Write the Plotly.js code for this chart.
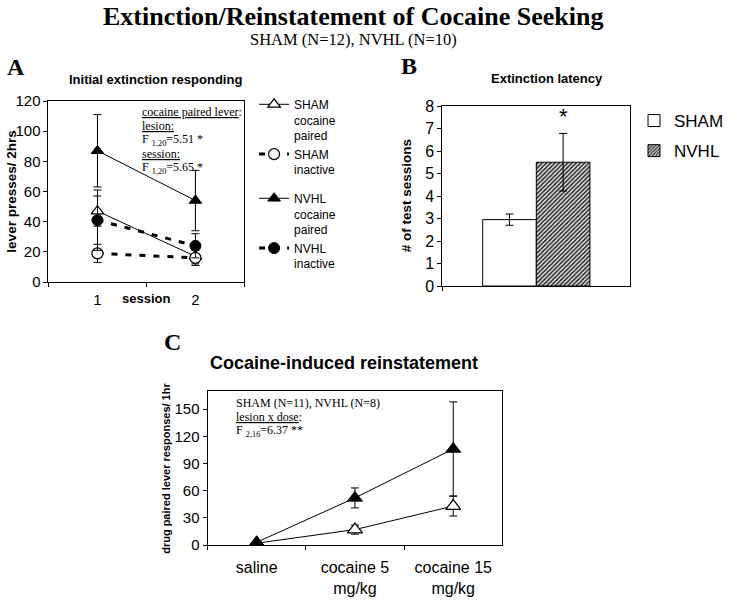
<!DOCTYPE html>
<html>
<head>
<meta charset="utf-8">
<script src="https://cdn.plot.ly/plotly-3.0.1.min.js"></script>
<style>html,body{margin:0;padding:0;background:#fff;}#chart{width:729px;height:601px;}</style>
</head>
<body>
<div id="chart"></div>
<script>
// ---------- Panel A data ----------
var sessions = ["1", "2"];
var shamCocaine = [47, 17];
var shamCocaineErr = [10, 5];
var shamInactive = [19, 16];
var shamInactiveErr = [6, 5];
var nvhlCocaine = [87, 54];
var nvhlCocaineErr = [24, 20];
var nvhlInactive = [41, 24];
var nvhlInactiveErr = [20, 8];

// ---------- Panel B data ----------
var latencyCategory = ["latency"];
var shamLatency = [2.95];
var shamLatencyErr = [0.25];
var nvhlLatency = [5.5];
var nvhlLatencyErr = [1.28];

// ---------- Panel C data ----------
var doses = ["saline", "cocaine 5<br>mg/kg", "cocaine 15<br>mg/kg"];
var shamReinst = [2, 17, 43];
var shamReinstErr = [1, 5, 11];
var nvhlReinst = [3, 52, 106];
var nvhlReinstErr = [1, 11, 52];

var W = 729, H = 601;
function px(x) { return x / W; }
function py(y) { return 1 - y / H; }

var ARIAL = "Liberation Sans, Arial, sans-serif";
var TIMES = "Liberation Serif, Times New Roman, serif";

function errY(arr) {
  return {type: "data", array: arr, visible: true, color: "#000", thickness: 1, width: 4};
}

var traces = [
  {x: sessions, y: shamCocaine, error_y: errY(shamCocaineErr), xaxis: "x", yaxis: "y",
   name: "SHAM<br>cocaine<br>paired", legendgroup: "sham", legend: "legend",
   mode: "lines+markers", line: {color: "#000", width: 1},
   marker: {symbol: "triangle-up", size: 11, color: "#fff", line: {color: "#000", width: 1.2}}},
  {x: sessions, y: shamInactive, error_y: errY(shamInactiveErr), xaxis: "x", yaxis: "y",
   name: "SHAM<br>inactive", legendgroup: "sham", legend: "legend",
   mode: "lines+markers", line: {color: "#000", width: 3, dash: "6px,8px"},
   marker: {symbol: "circle", size: 11, color: "#fff", line: {color: "#000", width: 1.2}}},
  {x: sessions, y: nvhlCocaine, error_y: errY(nvhlCocaineErr), xaxis: "x", yaxis: "y",
   name: "NVHL<br>cocaine<br>paired", legendgroup: "nvhl", legend: "legend",
   mode: "lines+markers", line: {color: "#000", width: 1},
   marker: {symbol: "triangle-up", size: 11, color: "#000", line: {color: "#000", width: 1}}},
  {x: sessions, y: nvhlInactive, error_y: errY(nvhlInactiveErr), xaxis: "x", yaxis: "y",
   name: "NVHL<br>inactive", legendgroup: "nvhl", legend: "legend",
   mode: "lines+markers", line: {color: "#000", width: 3, dash: "6px,8px"},
   marker: {symbol: "circle", size: 11, color: "#000", line: {color: "#000", width: 1}}},

  {type: "bar", x: latencyCategory, y: shamLatency, error_y: errY(shamLatencyErr), xaxis: "x2", yaxis: "y2",
   name: "SHAM", legend: "legend2", legendgroup: "bs",
   marker: {color: "#fff", line: {color: "#000", width: 1}}},
  {type: "bar", x: latencyCategory, y: nvhlLatency, error_y: errY(nvhlLatencyErr), xaxis: "x2", yaxis: "y2",
   name: "NVHL", legend: "legend2", legendgroup: "bn",
   marker: {color: "#fff", line: {color: "#000", width: 1},
            pattern: {shape: "/", fgcolor: "#333", bgcolor: "#fff", size: 3, solidity: 0.6}}},

  {x: doses, y: shamReinst, error_y: errY(shamReinstErr), xaxis: "x3", yaxis: "y3",
   name: "SHAM", showlegend: false, mode: "lines+markers", line: {color: "#000", width: 1},
   marker: {symbol: "triangle-up", size: 13, color: "#fff", line: {color: "#000", width: 1.2}}},
  {x: doses, y: nvhlReinst, error_y: errY(nvhlReinstErr), xaxis: "x3", yaxis: "y3",
   name: "NVHL", showlegend: false, mode: "lines+markers", line: {color: "#000", width: 1},
   marker: {symbol: "triangle-up", size: 13, color: "#000", line: {color: "#000", width: 1}}}
];

function ax(extra) {
  var base = {showline: true, linecolor: "#000", linewidth: 1, mirror: true, showgrid: false,
              zeroline: false, ticks: "outside", ticklen: 4, tickcolor: "#000",
              tickfont: {family: ARIAL, size: 15, color: "#000"}, fixedrange: true};
  for (var k in extra) base[k] = extra[k];
  return base;
}

function ann(text, x, y, font, opts) {
  var a = {text: text, x: px(x), y: py(y), xref: "paper", yref: "paper", showarrow: false,
           font: font, xanchor: "center", yanchor: "middle"};
  if (opts) for (var k in opts) a[k] = opts[k];
  return a;
}
var fTimes = {family: TIMES, size: 12, color: "#000"};

var annotations = [
  ann("<b>Extinction/Reinstatement of Cocaine Seeking</b>", 364, 17, {family: TIMES, size: 26, color: "#000"}),
  ann("SHAM (N=12), NVHL (N=10)", 364, 40, {family: TIMES, size: 16.5, color: "#000"}),
  ann("<b>A</b>", 16, 67, {family: TIMES, size: 24, color: "#000"}),
  ann("<b>B</b>", 422, 66, {family: TIMES, size: 24, color: "#000"}),
  ann("<b>C</b>", 178, 342, {family: TIMES, size: 24, color: "#000"}),
  ann("<b>Initial extinction responding</b>", 160, 79, {family: ARIAL, size: 13, color: "#000"}),
  ann("<b>Extinction latency</b>", 564, 78, {family: ARIAL, size: 13, color: "#000"}),
  ann("<b>Cocaine-induced reinstatement</b>", 355, 363, {family: ARIAL, size: 18, color: "#000"}),
  ann("<b>lever presses/ 2hrs</b>", 12, 192, {family: ARIAL, size: 13.5, color: "#000"}, {textangle: -90}),
  ann("<b># of test sessions</b>", 420, 196, {family: ARIAL, size: 13.5, color: "#000"}, {textangle: -90}),
  ann("<b>drug paired lever responses/ 1hr</b>", 171, 468, {family: ARIAL, size: 11, color: "#000"}, {textangle: -90}),
  ann("<b>session</b>", 151, 298, {family: ARIAL, size: 13, color: "#000"}),
  ann("<u>cocaine paired lever</u>:", 144, 112, fTimes, {xanchor: "left"}),
  ann("<u>lesion:</u>", 144, 126, fTimes, {xanchor: "left"}),
  ann("F <sub>1,20</sub>=5.51 *", 144, 140, fTimes, {xanchor: "left"}),
  ann("<u>session:</u>", 144, 154, fTimes, {xanchor: "left"}),
  ann("F <sub>1,20</sub>=5.65 *", 144, 168, fTimes, {xanchor: "left"}),
  ann("*", 581, 116, {family: ARIAL, size: 22, color: "#000"}),
  ann("SHAM (N=11), NVHL (N=8)", 241, 403, fTimes, {xanchor: "left"}),
  ann("<u>lesion x dose</u>:", 241, 417, fTimes, {xanchor: "left"}),
  ann("F <sub>2,16</sub>=6.37 **", 241, 431, fTimes, {xanchor: "left"})
];

var layout = {
  width: W, height: H, autosize: false,
  margin: {l: 0, r: 0, t: 0, b: 0, pad: 0},
  paper_bgcolor: "#fff", plot_bgcolor: "#fff",
  font: {family: ARIAL, color: "#000"},
  barmode: "group", bargap: 0.43, bargroupgap: 0,
  xaxis: ax({domain: [px(50), px(252)], type: "category", tickson: "boundaries", range: [-0.5, 1.5],
             anchor: "y", ticklabelstandoff: 4}),
  yaxis: ax({domain: [py(282), py(101)], range: [0, 120], dtick: 20, anchor: "x"}),
  xaxis2: ax({domain: [px(456), px(650)], type: "category", tickson: "boundaries", showticklabels: false, anchor: "y2"}),
  yaxis2: ax({domain: [py(286), py(106)], range: [0, 8], dtick: 1, anchor: "x2",
              tickfont: {family: ARIAL, size: 16, color: "#000"}}),
  xaxis3: ax({domain: [px(214), px(518)], type: "category", tickson: "boundaries", range: [-0.5, 2.5], anchor: "y3",
              tickfont: {family: ARIAL, size: 16, color: "#000"}, ticklabelstandoff: 8}),
  yaxis3: ax({domain: [py(545), py(391)], range: [0, 170], tickvals: [0, 30, 60, 90, 120, 150], anchor: "x3"}),
  legend: {x: px(262), y: py(90), xanchor: "left", yanchor: "top", bgcolor: "rgba(0,0,0,0)",
           font: {family: ARIAL, size: 12, color: "#000"}, valign: "top", tracegroupgap: 10,
           traceorder: "grouped", itemwidth: 30},
  legend2: {x: px(654), y: py(103), xanchor: "left", yanchor: "top", bgcolor: "rgba(0,0,0,0)",
            font: {family: ARIAL, size: 17, color: "#000"}, tracegroupgap: 5, traceorder: "grouped", itemwidth: 30},
  showlegend: true,
  annotations: annotations
};

Plotly.newPlot("chart", traces, layout, {displayModeBar: false, staticPlot: true});
</script>
</body>
</html>
